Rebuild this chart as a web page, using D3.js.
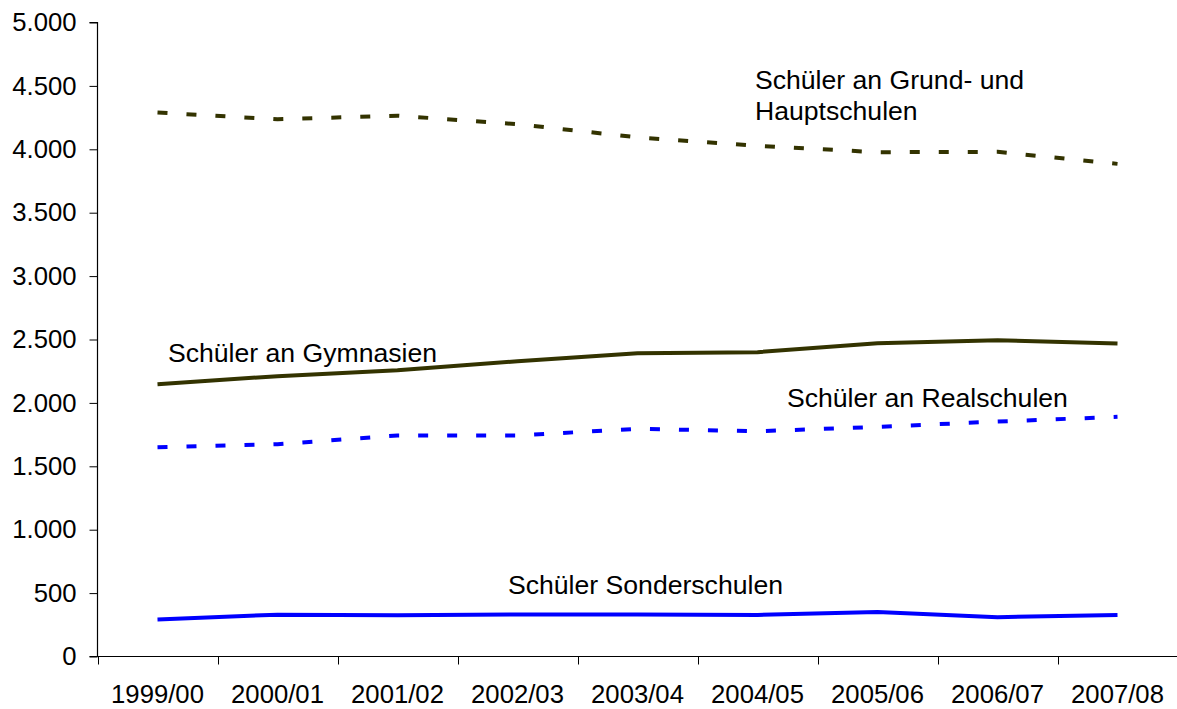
<!DOCTYPE html>
<html>
<head>
<meta charset="utf-8">
<script src="https://cdn.jsdelivr.net/npm/d3@7"></script>
<style>
  body { margin: 0; background: #fff; }
  svg { display: block; font-family: "Liberation Sans", Arial, sans-serif; }
</style>
</head>
<body>
<svg id="chart" width="1177" height="709"></svg>
<script>
var years = ["1999/00", "2000/01", "2001/02", "2002/03", "2003/04", "2004/05", "2005/06", "2006/07", "2007/08"];

var grundHaupt = [4290, 4237, 4265, 4198, 4094, 4027, 3977, 3980, 3885];
var gymnasien  = [2147, 2211, 2258, 2329, 2392, 2400, 2471, 2494, 2468];
var realschulen = [1651, 1674, 1743, 1743, 1796, 1776, 1811, 1853, 1890];
var sonder     = [292, 330, 325, 331, 331, 328, 350, 310, 327];

var yTicks = [0, 500, 1000, 1500, 2000, 2500, 3000, 3500, 4000, 4500, 5000];

var series = [
  { name: "grund", values: grundHaupt, color: "#333300", dash: "10,19" },
  { name: "gym", values: gymnasien, color: "#333300", dash: null },
  { name: "real", values: realschulen, color: "#0000ff", dash: "10,19" },
  { name: "sonder", values: sonder, color: "#0000ff", dash: null }
];

var labels = [
  { lines: ["Schüler an Grund- und", "Hauptschulen"], x: 755, y: 89 },
  { lines: ["Schüler an Gymnasien"], x: 168, y: 362 },
  { lines: ["Schüler an Realschulen"], x: 787, y: 407 },
  { lines: ["Schüler Sonderschulen"], x: 508, y: 594 }
];

var fontSize = 25.7;
var labelSize = 26.6;
var svg = d3.select("#chart");

var x = d3.scaleBand().domain(years).range([97.5, 1177.5]);
var y = d3.scaleLinear().domain([0, 5000]).range([656.5, 22.5]);

var fmt = function (d) { return d3.format(",")(d).replace(/,/g, "."); };

var yAxisG = svg.append("g")
  .attr("transform", "translate(97.5,0)")
  .call(d3.axisLeft(y).tickValues(yTicks).tickSize(8).tickPadding(13).tickFormat(fmt));

var xAxisG = svg.append("g")
  .attr("transform", "translate(0,656.5)")
  .call(d3.axisBottom(x).tickSize(0).tickPadding(28));

// category boundaries get the ticks, not the centers
xAxisG.selectAll(".bound")
  .data(years.map(function (d) { return x(d); }))
  .enter().append("line")
  .attr("class", "bound")
  .attr("x1", function (d) { return Math.round(d) + 0.5; })
  .attr("x2", function (d) { return Math.round(d) + 0.5; })
  .attr("y1", 0)
  .attr("y2", 8)
  .attr("stroke", "#000");

[yAxisG, xAxisG].forEach(function (g) {
  g.select(".domain").attr("stroke", "#000").attr("stroke-width", 1.2);
  g.selectAll(".tick line").attr("stroke", "#000");
  g.selectAll("text")
    .attr("fill", "#000")
    .style("font-size", fontSize + "px")
    .style("font-family", "'Liberation Sans', Arial, sans-serif");
});
yAxisG.select(".domain").attr("d", "M-8,22.5H0V656.5H-8");
xAxisG.select(".domain").attr("d", "M97.5,0H1177.5");

var line = d3.line()
  .x(function (d, i) { return x(years[i]) + x.bandwidth() / 2; })
  .y(function (d) { return y(d); });

svg.selectAll(".series")
  .data(series)
  .enter().append("path")
  .attr("class", "series")
  .attr("d", function (s) { return line(s.values); })
  .attr("fill", "none")
  .attr("stroke", function (s) { return s.color; })
  .attr("stroke-width", 4)
  .attr("stroke-linejoin", "round")
  .attr("stroke-dasharray", function (s) { return s.dash; });

var text = svg.selectAll(".label")
  .data(labels)
  .enter().append("text")
  .attr("class", "label")
  .attr("x", function (d) { return d.x; })
  .attr("y", function (d) { return d.y; })
  .attr("fill", "#000")
  .style("font-size", labelSize + "px");

text.selectAll("tspan")
  .data(function (d) { return d.lines.map(function (l) { return { t: l, x: d.x }; }); })
  .enter().append("tspan")
  .attr("x", function (d) { return d.x; })
  .attr("dy", function (d, i) { return i ? 31 : 0; })
  .text(function (d) { return d.t; });
</script>
</body>
</html>
